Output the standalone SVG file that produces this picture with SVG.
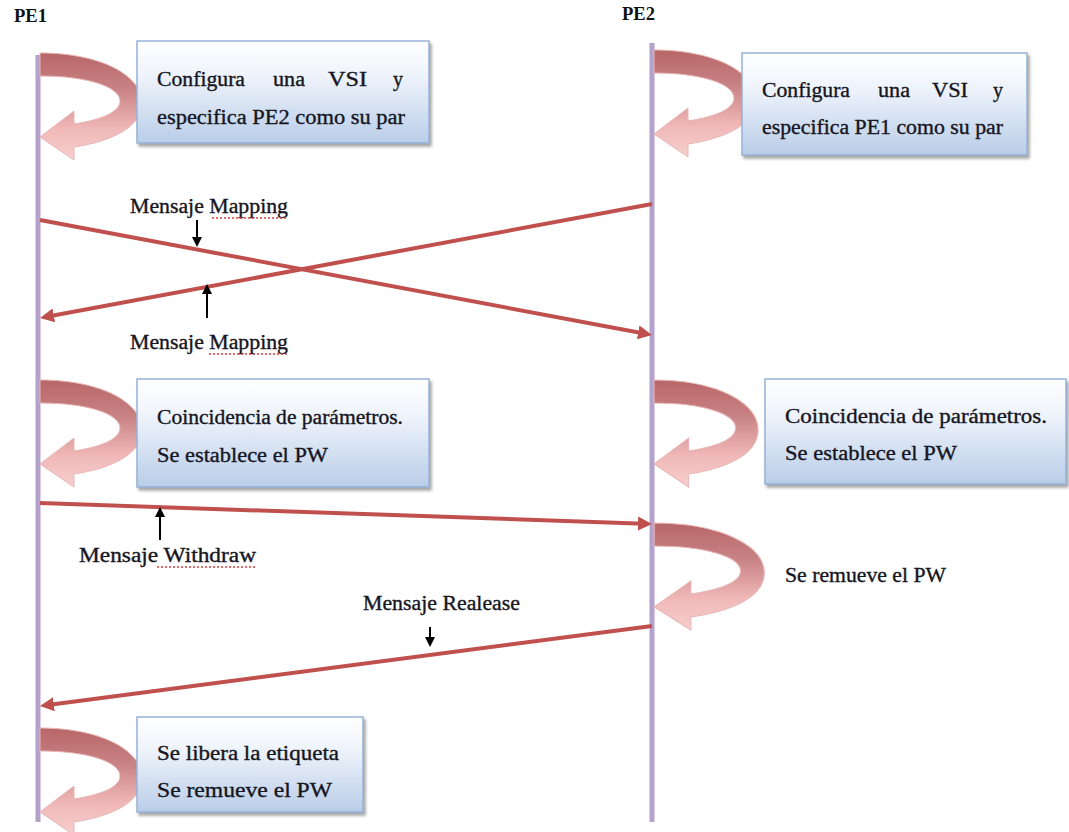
<svg xmlns="http://www.w3.org/2000/svg" width="1069" height="832" viewBox="0 0 1069 832">
  <style>
    .lifeline { stroke: #b4a2cc; stroke-width: 5; fill: none; }
    .msg { stroke: #c0504d; stroke-width: 4; fill: none; }
    .ptr { stroke: #000; stroke-width: 2; fill: none; }
    .box { fill: url(#boxFill); stroke: #95b3d7; stroke-width: 1.5; filter: url(#shadow); }
    .curl { fill: url(#curlFill); stroke: #e9b5b5; stroke-width: 1; }
    .t { font-family: "Liberation Serif", "Times New Roman", serif; font-size: 20px; fill: #16161f; stroke: #16161f; stroke-width: 0.35; }
    .h { font-family: "Liberation Serif", "Times New Roman", serif; font-size: 19px; font-weight: bold; fill: #111; }
    .spell { stroke: #e23a3a; stroke-width: 1.3; stroke-dasharray: 2 2; fill: none; }
  </style>
  <defs>
    <linearGradient id="boxFill" x1="0" y1="0" x2="0" y2="1">
      <stop offset="0" stop-color="#ffffff"/>
      <stop offset="0.35" stop-color="#eef3fb"/>
      <stop offset="1" stop-color="#b9cde8"/>
    </linearGradient>
    <linearGradient id="curlFill" x1="0" y1="0" x2="0" y2="1">
      <stop offset="0" stop-color="#b86668"/>
      <stop offset="0.35" stop-color="#c98486"/>
      <stop offset="0.7" stop-color="#f0b7b7"/>
      <stop offset="1" stop-color="#f7cfcf"/>
    </linearGradient>
    <filter id="shadow" x="-5%" y="-5%" width="115%" height="120%">
      <feDropShadow dx="2" dy="3" stdDeviation="1.5" flood-color="#7f7f7f" flood-opacity="0.7"/>
    </filter>
    <!-- U-turn arrow leaving a lifeline and pointing back at it -->
    <path id="curlShape" class="curl" d="M 2,0 C 62,0 104,22 104,50 C 104,73 76,88 36,94 L 36,107 L 2,84 L 36,58 L 36,71 C 67,66 82,58 82,48 C 82,34 50,23 2,23 Z"/>
    <marker id="redHead" markerUnits="userSpaceOnUse" markerWidth="16" markerHeight="14" refX="6" refY="7" orient="auto">
      <path d="M0,0 L14,7 L0,14 Z" fill="#c0504d"/>
    </marker>
    <marker id="blackHead" markerUnits="userSpaceOnUse" markerWidth="12" markerHeight="12" refX="5" refY="5" orient="auto">
      <path d="M0,0 L10,5 L0,10 Z" fill="#000"/>
    </marker>
  </defs>

  <rect width="1069" height="832" fill="#ffffff"/>

  <!-- lifelines -->
  <g id="pe1">
    <text class="h" x="14" y="22" textLength="33" lengthAdjust="spacingAndGlyphs">PE1</text>
    <line class="lifeline" x1="38" y1="55" x2="38" y2="822"/>
  </g>
  <g id="pe2">
    <text class="h" x="622" y="20" textLength="33" lengthAdjust="spacingAndGlyphs">PE2</text>
    <line class="lifeline" x1="652" y1="43" x2="652" y2="822"/>
  </g>

  <!-- PE1: configure VSI -->
  <g id="pe1-config">
    <use href="#curlShape" transform="translate(38,53)"/>
    <rect class="box" x="137" y="41" width="292" height="102"/>
    <text class="t" x="157" y="86" textLength="88" lengthAdjust="spacingAndGlyphs">Configura</text>
    <text class="t" x="273" y="86" textLength="32" lengthAdjust="spacingAndGlyphs">una</text>
    <text class="t" x="328" y="86" textLength="39" lengthAdjust="spacingAndGlyphs">VSI</text>
    <text class="t" x="393" y="86">y</text>
    <text class="t" x="157" y="124" textLength="248" lengthAdjust="spacingAndGlyphs">especifica PE2 como su par</text>
  </g>

  <!-- PE2: configure VSI -->
  <g id="pe2-config">
    <use href="#curlShape" transform="translate(652,50)"/>
    <rect class="box" x="742" y="53" width="285" height="102"/>
    <text class="t" x="762" y="97" textLength="88" lengthAdjust="spacingAndGlyphs">Configura</text>
    <text class="t" x="878" y="97" textLength="32" lengthAdjust="spacingAndGlyphs">una</text>
    <text class="t" x="932" y="97" textLength="36" lengthAdjust="spacingAndGlyphs">VSI</text>
    <text class="t" x="993" y="97">y</text>
    <text class="t" x="762" y="134" textLength="241" lengthAdjust="spacingAndGlyphs">especifica PE1 como su par</text>
  </g>

  <!-- PE1: parameters match -->
  <g id="pe1-match">
    <use href="#curlShape" transform="translate(38,380)"/>
    <rect class="box" x="137" y="379" width="292" height="108"/>
    <text class="t" x="157" y="424" textLength="246" lengthAdjust="spacingAndGlyphs">Coincidencia de parámetros.</text>
    <text class="t" x="157" y="462" textLength="171" lengthAdjust="spacingAndGlyphs">Se establece el PW</text>
  </g>

  <!-- PE2: parameters match -->
  <g id="pe2-match">
    <use href="#curlShape" transform="translate(652,380) scale(1.02,1)"/>
    <rect class="box" x="765" y="379" width="301" height="105"/>
    <text class="t" x="785" y="423" textLength="262" lengthAdjust="spacingAndGlyphs">Coincidencia de parámetros.</text>
    <text class="t" x="785" y="460" textLength="172" lengthAdjust="spacingAndGlyphs">Se establece el PW</text>
  </g>

  <!-- PE2: PW removed -->
  <g id="pe2-remove">
    <use href="#curlShape" transform="translate(652,523) scale(1.08,1)"/>
    <text class="t" x="785" y="582" textLength="161" lengthAdjust="spacingAndGlyphs">Se remueve el PW</text>
  </g>

  <!-- PE1: label released -->
  <g id="pe1-release">
    <use href="#curlShape" transform="translate(38,728)"/>
    <rect class="box" x="137" y="717" width="226" height="95"/>
    <text class="t" x="157" y="760" textLength="182" lengthAdjust="spacingAndGlyphs">Se libera la etiqueta</text>
    <text class="t" x="157" y="797" textLength="175" lengthAdjust="spacingAndGlyphs">Se remueve el PW</text>
  </g>

  <!-- messages -->
  <g id="connectors">
    <line class="msg" x1="40" y1="220" x2="644.1" y2="333.5" marker-end="url(#redHead)"/>
    <line class="msg" x1="652" y1="204" x2="47.9" y2="316.5" marker-end="url(#redHead)"/>
    <line class="msg" x1="40" y1="503" x2="644" y2="523.7" marker-end="url(#redHead)"/>
    <line class="msg" x1="652" y1="626" x2="47.9" y2="705" marker-end="url(#redHead)"/>

    <line class="ptr" x1="197" y1="220" x2="197" y2="242" marker-end="url(#blackHead)"/>
    <line class="ptr" x1="207" y1="318" x2="207" y2="289" marker-end="url(#blackHead)"/>
    <line class="ptr" x1="160" y1="540" x2="160" y2="512" marker-end="url(#blackHead)"/>
    <line class="ptr" x1="430" y1="627" x2="430" y2="642" marker-end="url(#blackHead)"/>
  </g>

  <!-- message labels -->
  <g id="labels">
    <text class="t" x="130" y="213" textLength="158" lengthAdjust="spacingAndGlyphs">Mensaje Mapping</text>
    <line class="spell" x1="212" y1="218" x2="288" y2="218"/>
    <text class="t" x="130" y="349" textLength="158" lengthAdjust="spacingAndGlyphs">Mensaje Mapping</text>
    <line class="spell" x1="209" y1="354" x2="288" y2="354"/>
    <text class="t" x="79" y="562" textLength="177" lengthAdjust="spacingAndGlyphs">Mensaje Withdraw</text>
    <line class="spell" x1="157" y1="567" x2="256" y2="567"/>
    <text class="t" x="363" y="610" textLength="157" lengthAdjust="spacingAndGlyphs">Mensaje Realease</text>
  </g>
</svg>
